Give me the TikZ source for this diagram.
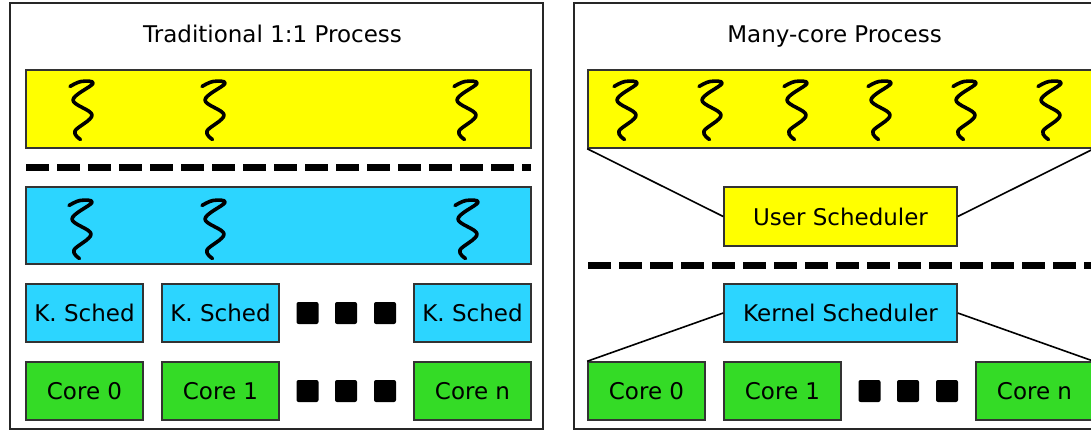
\documentclass[tikz,border=0pt]{standalone}
\usepackage{fontspec}
\setmainfont{DejaVu Sans}
\definecolor{yel}{HTML}{FFFF00}
\definecolor{blu}{HTML}{2CD5FF}
\definecolor{grn}{HTML}{34DB26}
\definecolor{edge}{HTML}{333333}
\tikzset{
  box/.style={draw=edge, line width=1.5pt, inner sep=0pt, font=\fontsize{23}{27}\selectfont},
  frame/.style={draw=black!85, line width=2pt, inner sep=0pt},
  dot/.style={fill=black, rounded corners=2pt, minimum width=22pt, minimum height=22pt, inner sep=0pt},
  sepline/.style={line width=7pt, dash pattern=on 23pt off 8pt},
  link/.style={line width=1.6pt, black},
  ttl/.style={font=\fontsize{23}{27}\selectfont, anchor=base},
  squig/.pic={\draw[line width=3.6pt, line cap=round, line join=round] plot[smooth, tension=0.6] coordinates {(-12,-23.5) (-1,-28.5) (11,-26.5) (-9,-10) (10,5) (-7,21) (-1.5,29.5)};}
}
\begin{document}
\begin{tikzpicture}[x=1pt, y=-1pt]
\useasboundingbox (0,0) rectangle (1091,430);
\begin{scope}
\clip (0,0) rectangle (1091,430);
% ---------------- Left panel ----------------
\node[frame, minimum width=533pt, minimum height=426pt] (lframe) at (276.5,216) {};
\node[ttl] (ltitle) at (272.5,43) {Traditional 1:1 Process};
\node[box, fill=yel, minimum width=505pt, minimum height=78pt] (luser) at (278.5,109) {};
\foreach \x/\n in {82/a,214/b,466/c} \pic (lu\n) at (\x,110) {squig};
\coordinate (ldl) at (26,167.5);
\coordinate (ldr) at (531,167.5);
\draw[sepline] (ldl) -- (ldr);
\node[box, fill=blu, minimum width=505pt, minimum height=77pt] (lkern) at (278.5,225.5) {};
\foreach \x/\n in {81/a,214/b,467/c} \pic (lk\n) at (\x,229) {squig};
\node[box, fill=blu, minimum width=117pt, minimum height=58pt] (ks0) at (84.5,313) {K. Sched};
\node[box, fill=blu, minimum width=117pt, minimum height=58pt] (ks1) at (220.5,313) {K. Sched};
\node[box, fill=blu, minimum width=117pt, minimum height=58pt] (ksn) at (472.5,313) {K. Sched};
\node[dot] (lsa) at (307.5,313) {};
\node[dot] (lsb) at (346,313) {};
\node[dot] (lsc) at (385,313) {};
\node[box, fill=grn, minimum width=117pt, minimum height=58pt] (lc0) at (84.5,391) {Core 0};
\node[box, fill=grn, minimum width=117pt, minimum height=58pt] (lc1) at (220.5,391) {Core 1};
\node[box, fill=grn, minimum width=117pt, minimum height=58pt] (lcn) at (472.5,391) {Core n};
\node[dot] (lca) at (307.5,391) {};
\node[dot] (lcb) at (346,391) {};
\node[dot] (lcc) at (385,391) {};
% ---------------- Right panel ----------------
\node[frame, minimum width=533pt, minimum height=426pt] (rframe) at (840.5,216) {};
\node[ttl] (rtitle) at (834.5,43) {Many-core Process};
\node[box, fill=yel, minimum width=505pt, minimum height=78pt] (ruser) at (840.5,109) {};
\foreach \x/\n in {626/a,711/b,796/c,880/d,965/e,1050/f} \pic (ru\n) at (\x,110) {squig};
\node[box, fill=yel, minimum width=233pt, minimum height=59pt] (usched) at (840.5,216.5) {User Scheduler};
\draw[link] (ruser.south west) -- (usched.west);
\draw[link] (ruser.south east) -- (usched.east);
\coordinate (rdl) at (588,265);
\coordinate (rdr) at (1100,265);
\draw[sepline] (rdl) -- (rdr);
\node[box, fill=blu, minimum width=233pt, minimum height=58pt] (ksched) at (840.5,313) {Kernel Scheduler};
\node[box, fill=grn, minimum width=117pt, minimum height=58pt] (rc0) at (646.5,391) {Core 0};
\node[box, fill=grn, minimum width=117pt, minimum height=58pt] (rc1) at (782.5,391) {Core 1};
\node[box, fill=grn, minimum width=117pt, minimum height=58pt] (rcn) at (1034.5,391) {Core n};
\node[dot] (rca) at (869.5,391) {};
\node[dot] (rcb) at (908,391) {};
\node[dot] (rcc) at (947,391) {};
\draw[link] (ksched.west) -- (rc0.north west);
\draw[link] (ksched.east) -- (rcn.north east);
\end{scope}
\end{tikzpicture}
\end{document}
